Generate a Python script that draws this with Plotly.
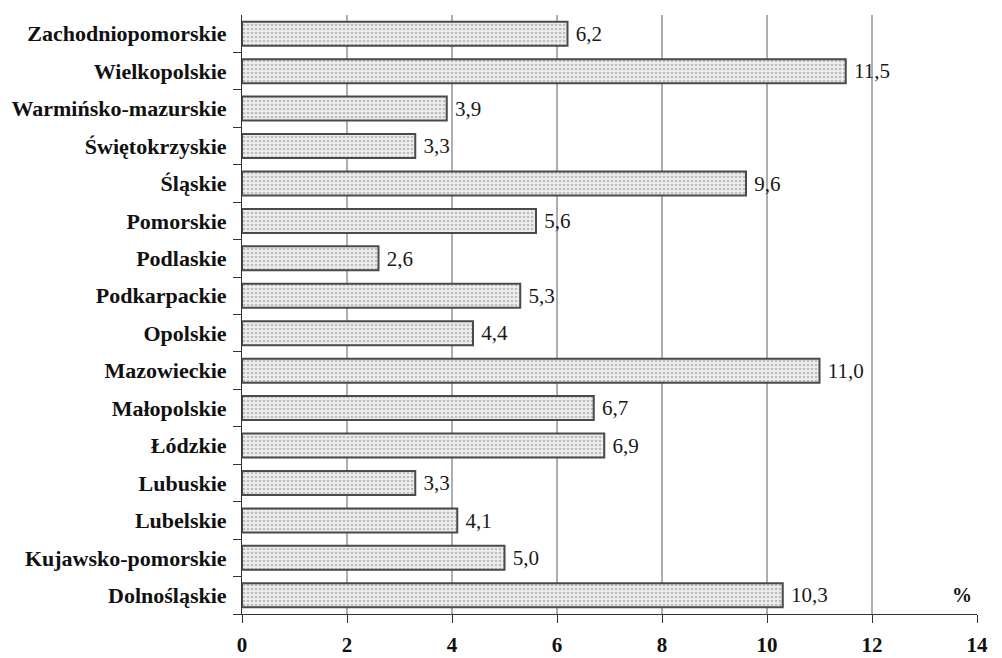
import plotly.graph_objects as go

regions = ["Zachodniopomorskie", "Wielkopolskie", "Warmińsko-mazurskie", "Świętokrzyskie",
           "Śląskie", "Pomorskie", "Podlaskie", "Podkarpackie", "Opolskie", "Mazowieckie",
           "Małopolskie", "Łódzkie", "Lubuskie", "Lubelskie", "Kujawsko-pomorskie", "Dolnośląskie"]
values = [6.2, 11.5, 3.9, 3.3, 9.6, 5.6, 2.6, 5.3, 4.4, 11.0, 6.7, 6.9, 3.3, 4.1, 5.0, 10.3]
labels = ["6,2", "11,5", "3,9", "3,3", "9,6", "5,6", "2,6", "5,3", "4,4", "11,0",
          "6,7", "6,9", "3,3", "4,1", "5,0", "10,3"]
x_ticks = [0, 2, 4, 6, 8, 10, 12, 14]
grid_vals = [2, 4, 6, 8, 10, 12]

serif = "Liberation Serif, Times New Roman, serif"

fig = go.Figure()
fig.add_trace(go.Bar(
    y=regions, x=values, orientation="h",
    text=labels, texttemplate="\u00a0%{text}", textposition="outside", cliponaxis=False,
    textfont=dict(family=serif, size=22, color="#1a1a1a"),
    marker=dict(
        color="#ececec",
        line=dict(color="#4a4a4a", width=2),
        pattern=dict(shape=".", fgcolor="#8c8c8c", bgcolor="#eeeeee", size=4, solidity=0.35),
    ),
    showlegend=False,
))

for g in grid_vals:
    fig.add_shape(type="line", xref="x", yref="paper", x0=g, x1=g, y0=0, y1=1,
                  line=dict(color="#5e5e5e", width=1), layer="below")

fig.add_annotation(text="<b>%</b>", xref="paper", yref="paper", x=0.98, y=0.01,
                   xanchor="center", yanchor="bottom", showarrow=False,
                   font=dict(family=serif, size=20, color="#111"))

fig.update_layout(
    width=1002, height=658,
    margin=dict(l=234, r=33, t=7, b=52, autoexpand=False),
    paper_bgcolor="white", plot_bgcolor="white",
    bargap=0.36,
    font=dict(family=serif, color="#111"),
    xaxis=dict(range=[0, 14], tickvals=x_ticks, ticktext=[f"<b>{v}</b>" for v in x_ticks],
               automargin=False,
               showgrid=False, zeroline=False, showline=True, linecolor="#333", linewidth=1,
               ticks="outside", ticklen=8, tickcolor="#333", ticklabelstandoff=4,
               tickfont=dict(family=serif, size=21, color="#111")),
    yaxis=dict(categoryorder="array", categoryarray=regions[::-1],
               range=[-0.5, len(regions) - 0.5], automargin=False,
               tickvals=regions, ticktext=[f"<b>{r}</b>" for r in regions],
               showline=True, linecolor="#333", linewidth=1,
               ticks="outside", ticklen=8, tickcolor="#333", tickson="boundaries",
               ticklabelstandoff=10,
               showgrid=False, zeroline=False,
               tickfont=dict(family=serif, size=22, color="#111")),
)

fig.write_html("out.html")
